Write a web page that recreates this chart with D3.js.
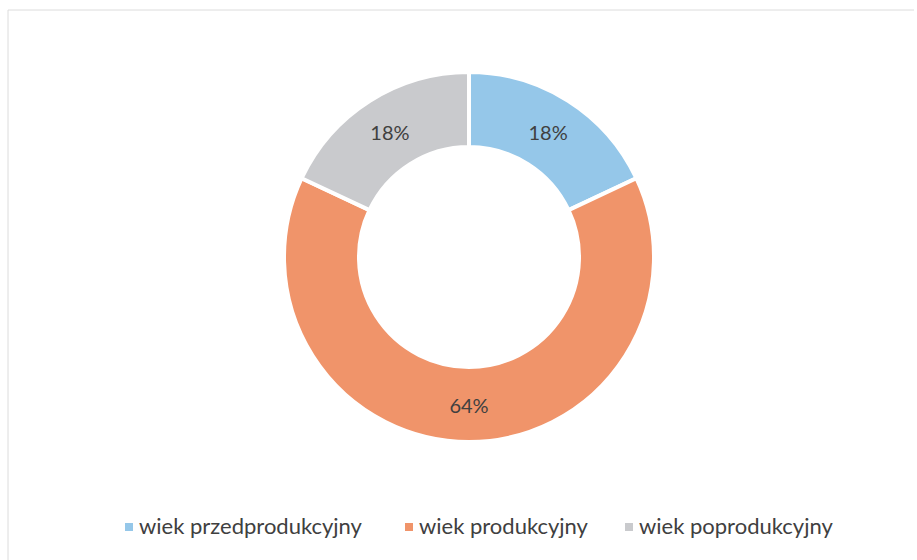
<!DOCTYPE html>
<html>
<head>
<meta charset="utf-8">
<script src="https://cdn.jsdelivr.net/npm/d3@7"></script>
<style>
  body { margin: 0; background: #fff; }
  text { font-family: Lato, "Open Sans", sans-serif; }
</style>
</head>
<body>
<div class="chart"></div>
<script>
var w = 917;
var h = 560;

// data
var categories = ["wiek przedprodukcyjny", "wiek produkcyjny", "wiek poprodukcyjny"];
var values = [18, 64, 18];
var colors = ["#95c7e9", "#f0946a", "#c9cacd"];

var cx = 469, cy = 257;
var outerR = 185, innerR = 110;

var svg = d3.select(".chart")
            .append("svg")
            .attr("width", w)
            .attr("height", h);

// faint frame (only top and left show in the scan)
svg.append("line").attr("x1", 8).attr("y1", 10).attr("x2", 914).attr("y2", 10)
   .attr("stroke", "#dcdcdc").attr("stroke-width", 1);
svg.append("line").attr("x1", 8).attr("y1", 10).attr("x2", 8).attr("y2", 560)
   .attr("stroke", "#dcdcdc").attr("stroke-width", 1);

var pie = d3.pie().sort(null).value(function(d) { return d; });
var arc = d3.arc().innerRadius(innerR).outerRadius(outerR);
var labelArc = d3.arc().innerRadius((innerR + outerR) / 2).outerRadius((innerR + outerR) / 2);

var g = svg.append("g").attr("transform", "translate(" + cx + "," + cy + ")");

g.selectAll("path")
    .data(pie(values))
    .enter()
    .append("path")
    .attr("d", arc)
    .attr("fill", function(d, i) { return colors[i]; })
    .attr("stroke", "#fff")
    .attr("stroke-width", 4);

g.selectAll(".lbl")
    .data(pie(values))
    .enter()
    .append("text")
    .attr("class", "lbl")
    .attr("transform", function(d) {
        var c = labelArc.centroid(d);
        return "translate(" + c[0] + "," + (c[1] + 8) + ")";
    })
    .attr("text-anchor", "middle")
    .attr("font-size", "20px")
    .attr("fill", "#404040")
    .text(function(d) { return d.data + "%"; });

// legend
var legendX = [125, 405, 625];
var legend = svg.selectAll(".leg")
    .data(categories)
    .enter()
    .append("g")
    .attr("class", "leg")
    .attr("transform", function(d, i) { return "translate(" + legendX[i] + ",523)"; });

legend.append("rect")
    .attr("x", 0).attr("y", 0)
    .attr("width", 8).attr("height", 8)
    .attr("fill", function(d, i) { return colors[i]; });

legend.append("text")
    .attr("x", 14).attr("y", 11)
    .attr("font-size", "22px")
    .attr("fill", "#404040")
    .text(function(d) { return d; });
</script>
</body>
</html>
